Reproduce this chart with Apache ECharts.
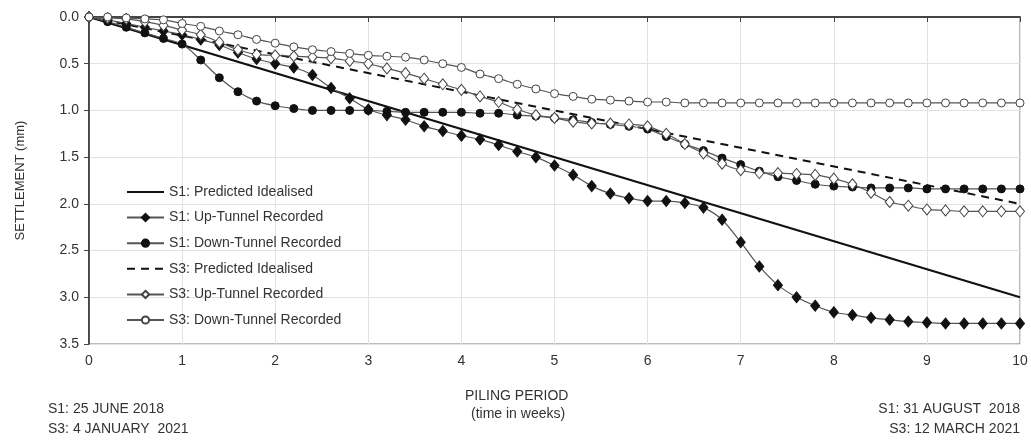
<!DOCTYPE html>
<html>
<head>
<meta charset="utf-8">
<script src="https://cdn.jsdelivr.net/npm/echarts@6/dist/echarts.min.js"></script>
<style>
  html, body { margin: 0; padding: 0; background: #ffffff; }
  #chart { width: 1031px; height: 443px; }
</style>
</head>
<body>
<div id="chart"></div>
<script>
/* 读数时间点（周），每 0.2 周一个测点 */
var WEEKS = [0, 0.2, 0.4, 0.6, 0.8, 1.0, 1.2, 1.4, 1.6, 1.8,
             2.0, 2.2, 2.4, 2.6, 2.8, 3.0, 3.2, 3.4, 3.6, 3.8,
             4.0, 4.2, 4.4, 4.6, 4.8, 5.0, 5.2, 5.4, 5.6, 5.8,
             6.0, 6.2, 6.4, 6.6, 6.8, 7.0, 7.2, 7.4, 7.6, 7.8,
             8.0, 8.2, 8.4, 8.6, 8.8, 9.0, 9.2, 9.4, 9.6, 9.8, 10.0];

/* 预测理想线：只有起点和终点 */
var PRED_WEEKS = [0, 10];
var S1_PRED = [0, 3.0];
var S3_PRED = [0, 2.0];

/* 实测沉降（mm） */
var S1_UP = [0, 0.03, 0.07, 0.11, 0.15, 0.19, 0.24, 0.30, 0.38, 0.45,
             0.50, 0.54, 0.62, 0.76, 0.87, 0.99, 1.05, 1.10, 1.17, 1.22,
             1.27, 1.31, 1.37, 1.44, 1.50, 1.59, 1.69, 1.81, 1.89, 1.94,
             1.97, 1.97, 1.99, 2.04, 2.17, 2.41, 2.67, 2.87, 3.00, 3.09,
             3.16, 3.19, 3.22, 3.24, 3.26, 3.27, 3.28, 3.28, 3.28, 3.28, 3.28];
var S1_DOWN = [0, 0.05, 0.11, 0.17, 0.23, 0.29, 0.46, 0.65, 0.80, 0.90,
               0.95, 0.98, 1.00, 1.00, 1.00, 1.00, 1.01, 1.02, 1.02, 1.02,
               1.02, 1.03, 1.03, 1.05, 1.06, 1.08, 1.10, 1.13, 1.15, 1.17,
               1.20, 1.28, 1.36, 1.43, 1.51, 1.58, 1.65, 1.71, 1.75, 1.79,
               1.81, 1.82, 1.83, 1.83, 1.83, 1.84, 1.84, 1.84, 1.84, 1.84, 1.84];
var S3_UP = [0, 0.01, 0.02, 0.05, 0.09, 0.14, 0.19, 0.27, 0.35, 0.40,
             0.41, 0.42, 0.43, 0.44, 0.47, 0.50, 0.55, 0.60, 0.66, 0.72,
             0.78, 0.85, 0.91, 0.99, 1.05, 1.08, 1.12, 1.14, 1.14, 1.15,
             1.17, 1.25, 1.36, 1.46, 1.57, 1.64, 1.67, 1.67, 1.68, 1.69,
             1.73, 1.79, 1.88, 1.98, 2.02, 2.06, 2.07, 2.08, 2.08, 2.08, 2.08];
var S3_DOWN = [0, 0, 0.01, 0.02, 0.03, 0.07, 0.10, 0.15, 0.19, 0.24,
               0.28, 0.32, 0.35, 0.37, 0.39, 0.41, 0.42, 0.43, 0.46, 0.50,
               0.54, 0.61, 0.66, 0.72, 0.77, 0.82, 0.85, 0.88, 0.89, 0.90,
               0.91, 0.91, 0.92, 0.92, 0.92, 0.92, 0.92, 0.92, 0.92, 0.92,
               0.92, 0.92, 0.92, 0.92, 0.92, 0.92, 0.92, 0.92, 0.92, 0.92, 0.92];

var NAMES = ["S1: Predicted Idealised", "S1: Up-Tunnel Recorded", "S1: Down-Tunnel Recorded",
             "S3: Predicted Idealised", "S3: Up-Tunnel Recorded", "S3: Down-Tunnel Recorded"];

var FONT = "Liberation Sans";
var TXT = "#333333";

function pairs(xs, ys) {
    var out = [];
    for (var i = 0; i < ys.length; i++) { out.push([xs[i], ys[i]]); }
    return out;
}

/* 实测曲线的公共样式 */
function recorded(name, ys, symbol, size, filled) {
    return {
        name: name,
        type: "line",
        data: pairs(WEEKS, ys),
        smooth: 0.3,
        symbol: symbol,
        symbolSize: size,
        showAllSymbol: true,
        lineStyle: { color: "#555555", width: 1.2 },
        itemStyle: {
            color: filled ? "#111111" : "#ffffff",
            borderColor: filled ? "#111111" : "#444444",
            borderWidth: 1
        },
        z: 3
    };
}

/* 预测理想线：无标记，图例里也不画点 */
function predicted(name, ys, dash) {
    return {
        name: name,
        type: "line",
        data: pairs(PRED_WEEKS, ys),
        symbol: "none",
        lineStyle: { color: "#111111", width: dash ? 2 : 2.2, type: dash ? [8, 6] : "solid" },
        itemStyle: { color: "rgba(0,0,0,0)", borderWidth: 0, opacity: 0 },
        z: 2
    };
}

var chart = echarts.init(document.getElementById("chart"));

chart.setOption({
    backgroundColor: "#ffffff",
    animation: false,
    textStyle: { fontFamily: FONT },
    grid: {
        left: 89, right: 11, top: 17, bottom: 99,
        show: true, borderColor: "#777777", borderWidth: 1
    },
    legend: {
        orient: "vertical",
        left: 121,
        top: 180,
        itemWidth: 37,
        itemHeight: 9,
        itemGap: 11.6,
        data: NAMES,
        textStyle: { fontFamily: FONT, fontSize: 14, lineHeight: 14, color: TXT }
    },
    xAxis: {
        type: "value",
        min: 0, max: 10, interval: 1,
        axisLine: { show: true, lineStyle: { color: "#444444", width: 2 } },
        axisTick: { show: true, length: 5, lineStyle: { color: "#444444" } },
        axisLabel: { fontFamily: FONT, fontSize: 14, color: TXT, margin: 10 },
        splitLine: { show: true, lineStyle: { color: "#e2e2e2", width: 1 } }
    },
    yAxis: {
        type: "value",
        inverse: true,
        min: 0, max: 3.5, interval: 0.5,
        name: "SETTLEMENT (mm)",
        nameLocation: "middle",
        nameGap: 62,
        nameTextStyle: { fontFamily: FONT, fontSize: 13, color: TXT },
        axisLine: { show: true, lineStyle: { color: "#222222", width: 1.5 } },
        axisTick: { show: true, length: 5, lineStyle: { color: "#444444" } },
        axisLabel: {
            fontFamily: FONT, fontSize: 14, color: TXT, margin: 10,
            formatter: function (v) { return v.toFixed(1); }
        },
        splitLine: { show: true, lineStyle: { color: "#e2e2e2", width: 1 } }
    },
    graphic: [
        { type: "text", left: 465, top: 389, style: { text: "PILING PERIOD", font: "14px " + FONT, fill: TXT } },
        { type: "text", left: 471, top: 407, style: { text: "(time in weeks)", font: "14px " + FONT, fill: TXT } },
        { type: "text", left: 48, top: 402, style: { text: "S1: 25 JUNE 2018", font: "14px " + FONT, fill: TXT } },
        { type: "text", left: 48, top: 422, style: { text: "S3: 4 JANUARY  2021", font: "14px " + FONT, fill: TXT } },
        { type: "text", right: 11, top: 402, style: { text: "S1: 31 AUGUST  2018", font: "14px " + FONT, fill: TXT } },
        { type: "text", right: 11, top: 422, style: { text: "S3: 12 MARCH 2021", font: "14px " + FONT, fill: TXT } }
    ],
    series: [
        predicted(NAMES[0], S1_PRED, false),
        recorded(NAMES[1], S1_UP, "diamond", [9, 11], true),
        recorded(NAMES[2], S1_DOWN, "circle", 8, true),
        predicted(NAMES[3], S3_PRED, true),
        recorded(NAMES[4], S3_UP, "diamond", [9, 11], false),
        recorded(NAMES[5], S3_DOWN, "circle", 8, false)
    ]
});
</script>
</body>
</html>
